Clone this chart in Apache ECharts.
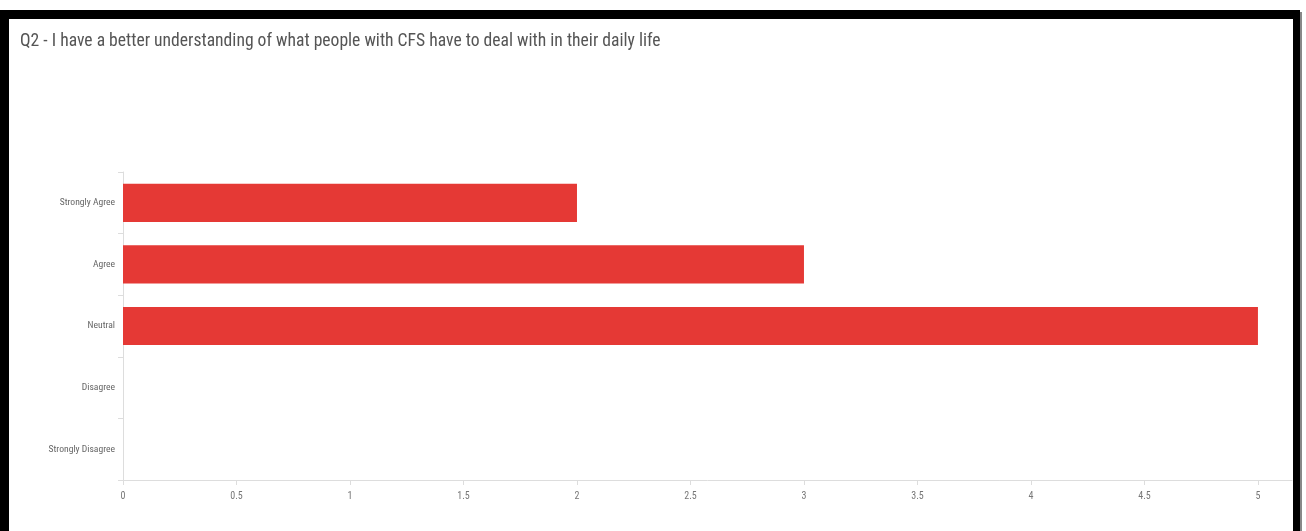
<!DOCTYPE html>
<html><head><meta charset="utf-8">
<script src="https://cdn.jsdelivr.net/npm/echarts@6/dist/echarts.min.js"></script>
<style>html,body{margin:0;padding:0;background:#fff;}#c{width:1306px;height:531px;}</style>
</head><body><div id="c"></div>
<script>
const titleText = 'Q2 - I have a better understanding of what people with CFS have to deal with in their daily life';
const categories = ['Strongly Agree', 'Agree', 'Neutral', 'Disagree', 'Strongly Disagree'];
const counts = [2, 3, 5, 0, 0];
const xTicks = [0, 0.5, 1, 1.5, 2, 2.5, 3, 3.5, 4, 4.5, 5];

const chart = echarts.init(document.getElementById('c'), null, {renderer: 'canvas'});
const narrow = '"Liberation Sans Narrow", "Roboto Condensed", "DejaVu Sans Condensed", sans-serif';
chart.setOption({
  animation: false,
  backgroundColor: '#fff',
  title: {
    text: titleText, left: 15, top: 28,
    textStyle: {fontFamily: narrow, fontSize: 17.6, fontWeight: 'normal', color: '#555'}
  },
  grid: {left: 123, right: 14, top: 172, bottom: 51, containLabel: false},
  xAxis: {
    type: 'value', min: 0, max: 5.15,
    axisLine: {show: true, lineStyle: {color: '#ddd', width: 1}},
    axisTick: {show: true, length: 5, lineStyle: {color: '#ddd'}, customValues: xTicks},
    axisLabel: {color: '#777', fontSize: 10, fontFamily: narrow, margin: 11, customValues: xTicks,
      formatter: v => String(v)},
    splitLine: {show: false}
  },
  yAxis: {
    type: 'category', data: categories, inverse: true,
    axisLine: {show: true, lineStyle: {color: '#ddd', width: 1}},
    axisTick: {show: true, length: 5, lineStyle: {color: '#ddd'}},
    axisLabel: {color: '#666', fontSize: 9.6, fontFamily: narrow, margin: 8, padding: [3, 0, 0, 0]}
  },
  series: [{
    type: 'bar', data: counts, barCategoryGap: '38%',
    itemStyle: {color: '#e53935'}
  }],
  graphic: [
    {type: 'rect', shape: {x: 0, y: 10, width: 1300, height: 9}, style: {fill: '#000'}, z: 100},
    {type: 'rect', shape: {x: 0, y: 10, width: 9, height: 530}, style: {fill: '#000'}, z: 100},
    {type: 'rect', shape: {x: 1293, y: 10, width: 7, height: 530}, style: {fill: '#000'}, z: 100},
    {type: 'rect', shape: {x: 1300, y: 12, width: 2, height: 530}, style: {fill: '#888'}, z: 99}
  ]
});
</script></body></html>
